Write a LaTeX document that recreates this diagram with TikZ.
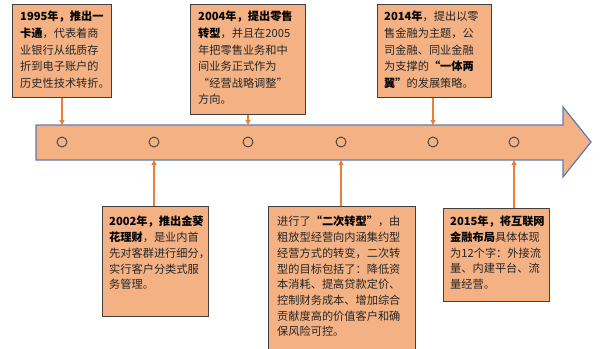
\documentclass[tikz,border=0pt]{standalone}
\usepackage{fontspec}
\setmainfont{Noto Sans CJK SC}
\usetikzlibrary{arrows.meta,calc}
\definecolor{boxfill}{HTML}{F4B183}
\definecolor{boxline}{HTML}{404040}
\definecolor{arrline}{HTML}{5B7DB8}
\definecolor{conn}{HTML}{ED7D31}
\definecolor{bodytxt}{HTML}{262626}
\newcommand{\bb}[1]{{\bfseries\color{black}#1}}
\tikzset{
  box/.style={draw=boxline, line width=1pt, fill=boxfill, rectangle, inner sep=0pt, anchor=north west},
  txt/.style={anchor=north west, inner sep=0pt, align=left, text=bodytxt, font=\fontsize{11.2}{16.6}\selectfont},
  txtb/.style={txt, font=\fontsize{11.2}{15.7}\selectfont},
  dot/.style={circle, draw=boxline, line width=0.9pt, minimum size=10pt, inner sep=0pt},
  conn/.style={draw=conn, line width=1.1pt, -{Triangle[length=5pt,width=5pt]}}
}
\begin{document}
\begin{tikzpicture}[x=1pt,y=-1pt]
\clip (0,0) rectangle (601,348);
\fill[white] (0,0) rectangle (601,348);
% main arrow
\draw[arrline, line width=1.2pt, fill=boxfill]
  (36,125) -- (563,125) -- (563,107) -- (591,142) -- (563,177) -- (563,160) -- (36,160) -- cycle;
% circles
\foreach \n/\x in {1/62,2/154,3/248,4/341,5/433,6/514}{
  \node[dot] (c\n) at (\x,142) {};
  \coordinate (t\n) at (\x,125);
  \coordinate (u\n) at (\x,160);
}
% top boxes
\node[box, minimum width=99pt, minimum height=93pt] (b1) at (12,4) {};
\node[txt] (x1) at (20,11) {\bb{1995年，推出一}\\\bb{卡通}，代表着商\\业银行从纸质存\\折到电子账户的\\历史性技术转折。};
\node[box, minimum width=115pt, minimum height=110pt] (b2) at (190,4) {};
\node[txt] (x2) at (198,11) {\bb{2004年，提出零售}\\\bb{转型}，并且在2005\\年把零售业务和中\\间业务正式作为\\“经营战略调整”\\方向。};
\node[box, minimum width=114pt, minimum height=93pt] (b3) at (377,4) {};
\node[txt] (x3) at (384,11) {\bb{2014年}，提出以零\\售金融为主题，公\\司金融、同业金融\\为支撑的\bb{“一体两}\\\bb{翼”}的发展策略。};
% bottom boxes
\node[box, minimum width=106pt, minimum height=110pt] (b4) at (102,206) {};
\node[txtb] (x4) at (109,216) {\bb{2002年，推出金葵}\\\bb{花理财}，是业内首\\先对客群进行细分，\\实行客户分类式服\\务管理。};
\node[box, minimum width=147pt, minimum height=150pt] (b5) at (268,206) {};
\node[txtb] (x5) at (277,216) {进行了\bb{“二次转型”}，由\\粗放型经营向内涵集约型\\经营方式的转变，二次转\\型的目标包括了：降低资\\本消耗、提高贷款定价、\\控制财务成本、增加综合\\贡献度高的价值客户和确\\保风险可控。};
\node[box, minimum width=106pt, minimum height=93pt] (b6) at (443,208) {};
\node[txtb] (x6) at (450,216) {\bb{2015年，将互联网}\\\bb{金融布局}具体体现\\为12个字：外接流\\量、内建平台、流\\量经营。};
% connectors
\draw[conn] (b1.south -| t1) -- (t1);
\draw[conn] (b2.south -| t3) -- (t3);
\draw[conn] (b3.south -| t5) -- (t5);
\draw[conn] (b4.north -| u2) -- (u2);
\draw[conn] (b5.north -| u4) -- (u4);
\draw[conn] (b6.north -| u6) -- (u6);
\end{tikzpicture}
\end{document}
